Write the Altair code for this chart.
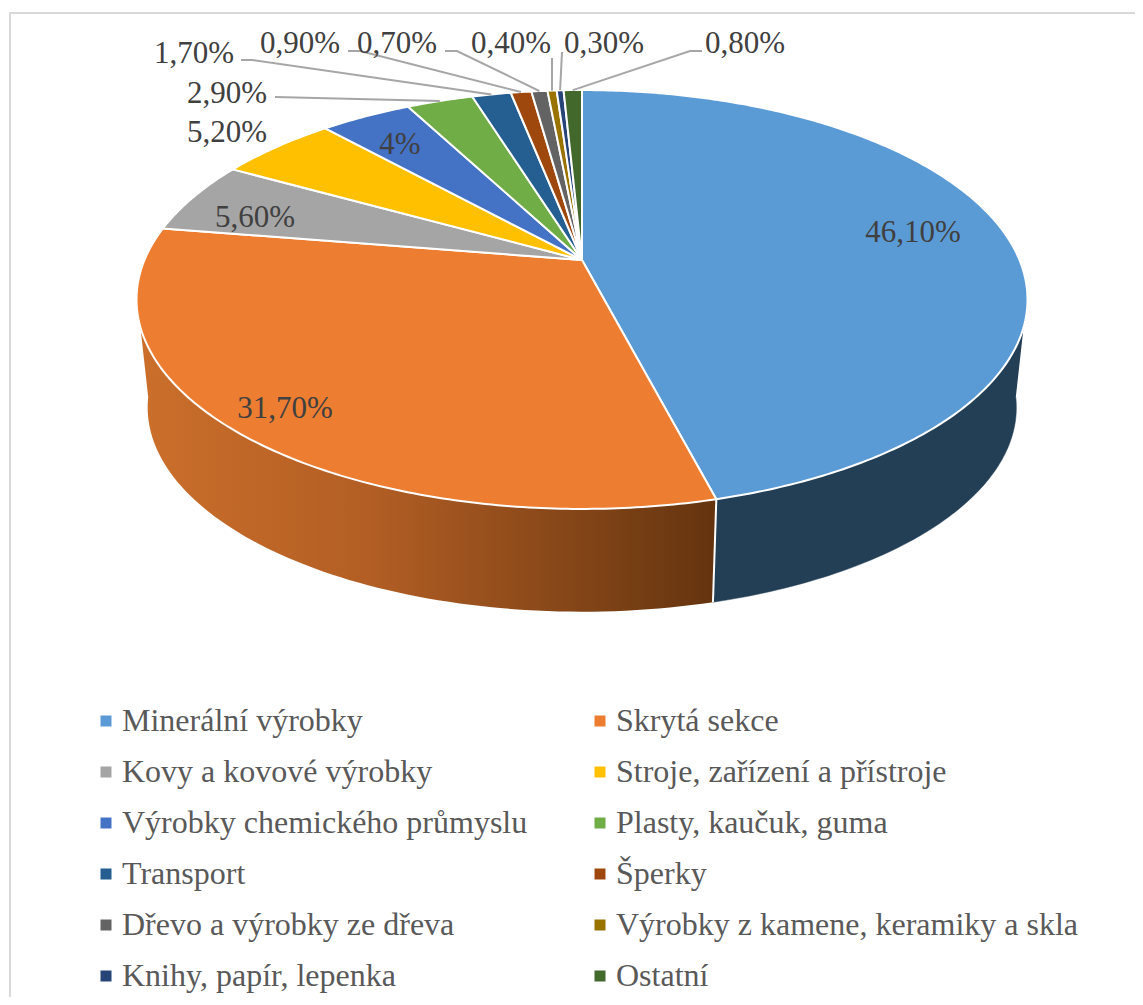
import numpy as np
import pandas as pd
import altair as alt

categories = ["Minerální výrobky", "Skrytá sekce", "Kovy a kovové výrobky",
              "Stroje, zařízení a přístroje", "Výrobky chemického průmyslu",
              "Plasty, kaučuk, guma", "Transport", "Šperky",
              "Dřevo a výrobky ze dřeva", "Výrobky z kamene, keramiky a skla",
              "Knihy, papír, lepenka", "Ostatní"]
shares = [46.1, 31.7, 5.6, 5.2, 4.0, 2.9, 1.7, 0.9, 0.7, 0.4, 0.3, 0.8]
labels = ["46,10%", "31,70%", "5,60%", "5,20%", "4%", "2,90%", "1,70%",
          "0,90%", "0,70%", "0,40%", "0,30%", "0,80%"]
colors = ["#5B9BD5", "#ED7D31", "#A5A5A5", "#FFC000", "#4472C4", "#70AD47",
          "#255E91", "#9E480E", "#636363", "#997300", "#264478", "#43682B"]

# label centres
label_x = [913, 285, 255, 227, 400, 227, 194, 300, 397, 511, 604, 745]
label_y = [233, 409, 218, 133, 145, 94, 54, 44, 44, 44, 44, 44]
# leader line start and knee per slice index
leaders = {5: [(275, 97)],
           6: [(241, 60), (252, 60)],
           7: [(348, 51), (360, 51)],
           8: [(445, 51), (457, 51)],
           9: [(552, 58)],
           10: [(562, 52)],
           11: [(702, 51), (690, 51)]}

# perspective of the tilted disc
CX, AY, W, H, K = 582, 260, 437.5, 202, 0.1885
BOT_S, BOT_Y = 0.975, 369
TOP_TAN, BOT_TAN = 108.2, 98


def top(theta):
    t = np.radians(theta)
    u, v = np.sin(t), np.cos(t)
    d = 1 + K * v
    return CX + W * u / d, AY - H * v / d


def bottom(theta):
    t = np.radians(theta)
    u, v = np.sin(t), np.cos(t)
    d = 1 + K * v
    return CX + BOT_S * W * u / d, BOT_Y - BOT_S * H * v / d


edges = np.concatenate([[0], np.cumsum(shares)]) / sum(shares) * 360

rows = []
for i, cat in enumerate(categories):
    a0, a1 = edges[i], edges[i + 1]
    pts = [(CX, AY)]
    for th in np.linspace(a0, a1, max(3, int((a1 - a0) * 1.5))):
        pts.append(top(th))
    pts.append((CX, AY))
    for k, (x, y) in enumerate(pts):
        rows.append(dict(cat=cat, k=k, x=x, y=y))
slices = pd.DataFrame(rows)


def side(a0, a1, b0, b1):
    pts = [top(t) for t in np.linspace(a0, a1, 80)]
    pts += [bottom(t) for t in np.linspace(b1, b0, 80)]
    return pd.DataFrame([dict(k=k, x=x, y=y) for k, (x, y) in enumerate(pts)])


a_blue = edges[1]
side_blue = side(TOP_TAN, a_blue, BOT_TAN, a_blue)
side_orange = side(a_blue, 360 - TOP_TAN, a_blue, 360 - BOT_TAN)

divider = pd.DataFrame([dict(k=0, x=top(a_blue)[0], y=top(a_blue)[1]),
                        dict(k=1, x=bottom(a_blue)[0], y=bottom(a_blue)[1])])

lead_rows = []
for i, start in leaders.items():
    mid = (edges[i] + edges[i + 1]) / 2
    for k, (x, y) in enumerate(start + [top(mid)]):
        lead_rows.append(dict(i=i, k=k, x=x, y=y))
lead = pd.DataFrame(lead_rows)

text_df = pd.DataFrame(dict(x=label_x, y=label_y, t=labels))
frame = pd.DataFrame(dict(k=[0, 1, 2], x=[10, 10, 1135], y=[997, 13, 13]))

xs = alt.Scale(domain=[8, 1135], range=[0, 1127], nice=False, zero=False)
ys = alt.Scale(domain=[8, 997], range=[0, 989], nice=False, zero=False)
X = alt.X("x:Q", scale=xs, axis=None)
Y = alt.Y("y:Q", scale=ys, axis=None)
O = alt.Order("k:Q")

l_frame = alt.Chart(frame).mark_line(color="#D9D9D9", strokeWidth=2).encode(X, Y, O)

orange_grad = alt.LinearGradient(
    gradient="linear", x1=0, x2=1, y1=0, y2=0,
    stops=[alt.GradientStop(color="#CB6F2B", offset=0),
           alt.GradientStop(color="#B25E24", offset=0.4),
           alt.GradientStop(color="#64340F", offset=1)])

l_sb = alt.Chart(side_blue).mark_line(fill="#233F56", stroke="#233F56", strokeWidth=0.5).encode(X, Y, O)
l_so = alt.Chart(side_orange).mark_line(fill=orange_grad, strokeWidth=0).encode(X, Y, O)
l_div = alt.Chart(divider).mark_line(color="white", strokeWidth=2).encode(X, Y, O)

l_top = alt.Chart(slices).mark_line(stroke="white", strokeWidth=2, strokeJoin="round").encode(
    X, Y, O,
    fill=alt.Fill("cat:N",
                  scale=alt.Scale(domain=categories, range=colors),
                  legend=alt.Legend(title=None, orient="none", legendX=82, legendY=697,
                                    direction="horizontal",
                                    columns=2, columnPadding=56, rowPadding=19,
                                    symbolType="square", symbolSize=121,
                                    symbolStrokeWidth=0, labelOffset=0,
                                    labelFont="Liberation Serif", labelFontSize=32,
                                    labelColor="#595959", labelLimit=600)))

l_lead = alt.Chart(lead).mark_line(color="#A6A6A6", strokeWidth=2).encode(
    X, Y, O, detail="i:N")

l_text = alt.Chart(text_df).mark_text(font="Liberation Serif", fontSize=31, color="#404040",
                                      baseline="middle", align="center").encode(X, Y, text="t:N")

chart = alt.layer(l_frame, l_sb, l_so, l_div, l_top, l_lead, l_text).properties(
    width=1127, height=989, padding=0, autosize=alt.AutoSizeParams(type="none")
).configure_view(stroke=None)

chart.save("out.html", embed_options={"renderer": "svg", "actions": False})
